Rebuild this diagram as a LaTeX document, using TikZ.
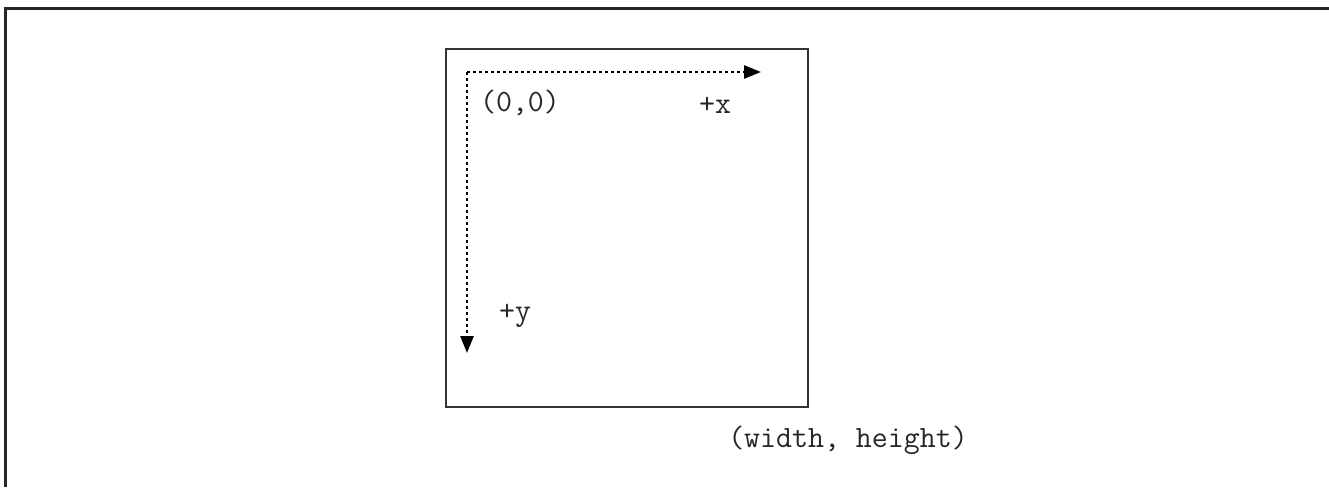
\documentclass[tikz,border=0pt]{standalone}
\usepackage{fontspec}
\usetikzlibrary{arrows.meta}
\newcommand{\axislbl}[3]{\node[lbltext] (#1) at (#2) {#3};}

\begin{document}
\begin{tikzpicture}[x=1pt, y=-1pt,
    lbltext/.style={font=\ttfamily\fontsize{31}{34}\selectfont, text=black!85, inner sep=0pt},
    axisline/.style={line width=2.6pt, dash pattern=on 2.6pt off 3.4pt, -{Triangle[length=17pt,width=13pt]}}]
        \useasboundingbox (0,0) rectangle (1329,487);
        % frame
        \draw[line width=3pt, black!85] (5,487) |- (1329,9);
        % screen
        \node[draw, line width=2.6pt, black!80, minimum width=362pt, minimum height=358pt, inner sep=0pt] (screen) at (627,228) {};
        % axes
        \coordinate (origin) at (467,72);
        \coordinate (xend) at (761,72);
        \coordinate (yend) at (467,353);
        \draw[axisline] (origin) -- (xend);
        \draw[axisline] (origin) -- (yend);
        % labels
        \axislbl{zero}{520,103}{(0,0)}
        \axislbl{plusx}{715,105}{+x}
        \axislbl{plusy}{515,316}{+y}
        \axislbl{corner}{848,440}{(width, height)}
\end{tikzpicture}
\end{document}
